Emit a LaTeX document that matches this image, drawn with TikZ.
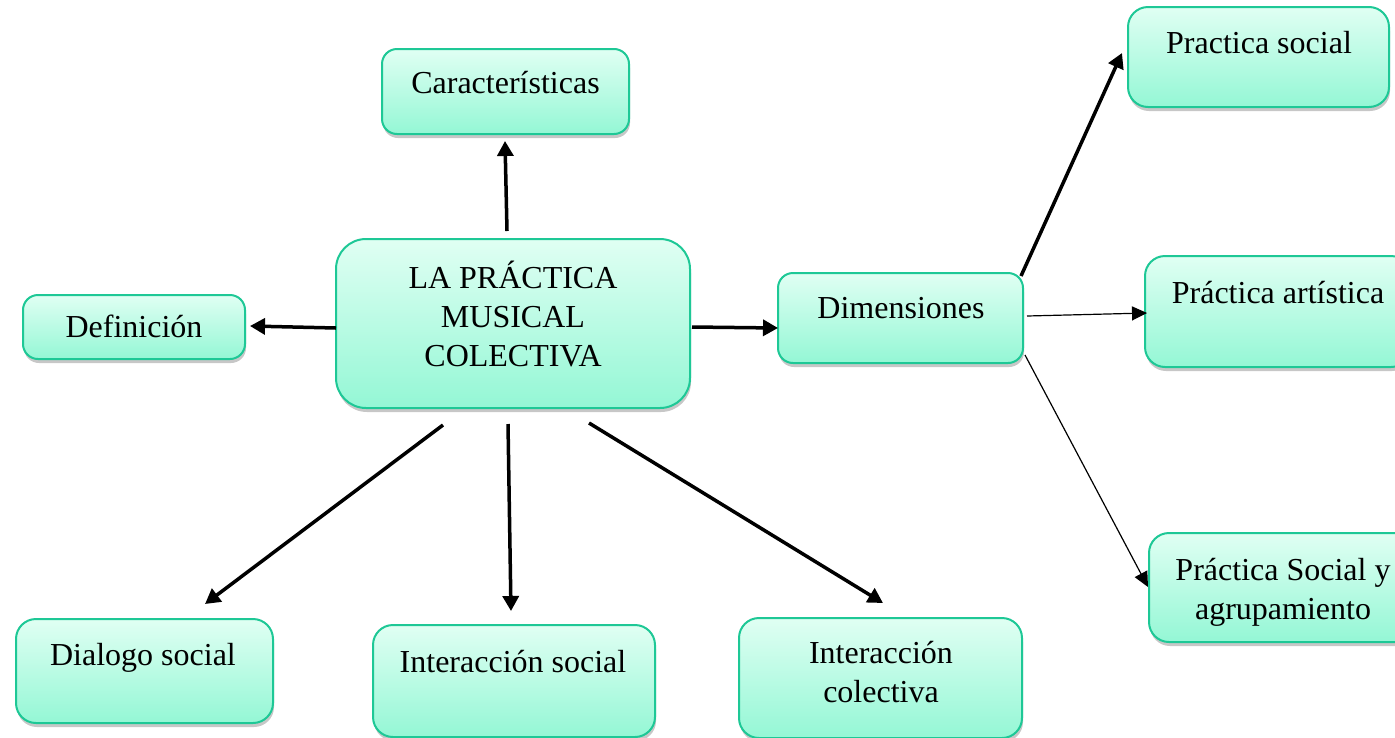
\documentclass[tikz,border=0pt]{standalone}
\usepackage{fontspec}
\setmainfont{Liberation Serif}
\usetikzlibrary{arrows.meta,shadows}
\definecolor{boxtop}{HTML}{E0FFF3}
\definecolor{boxbot}{HTML}{94F7D5}
\definecolor{boxline}{HTML}{1EC896}
\tikzset{
  mbox/.style={draw=boxline, line width=2pt, rounded corners=15pt,
    top color=boxtop, bottom color=boxbot, inner sep=0pt,
    drop shadow={shadow xshift=1pt, shadow yshift=-4pt, fill=black, opacity=0.22}},
  mtext/.style={align=center, inner sep=0pt, font=\fontsize{32}{39}\selectfont},
  thickarrow/.style={line width=3.5pt, -{Triangle[length=15pt,width=16pt]}},
  thinarrow/.style={line width=1.2pt, -{Triangle[length=15pt,width=14pt]}}
}
\begin{document}
\begin{tikzpicture}[x=1pt,y=-1pt]
\useasboundingbox (0,0) rectangle (1395,737);
% boxes
\node[mbox, minimum width=247pt, minimum height=85pt] (car) at (505.5,91.5) {};
\node[mbox, rounded corners=30pt, minimum width=354pt, minimum height=169pt] (cen) at (513,323.5) {};
\node[mbox, minimum width=222pt, minimum height=64pt] (def) at (134,327) {};
\node[mbox, minimum width=245pt, minimum height=90pt] (dim) at (900.5,318) {};
\node[mbox, rounded corners=20pt, minimum width=261pt, minimum height=100pt] (ps) at (1258.5,57) {};
\node[mbox, rounded corners=20pt, minimum width=266pt, minimum height=111pt] (pa) at (1278,311.5) {};
\node[mbox, rounded corners=20pt, minimum width=268pt, minimum height=109pt] (psa) at (1283,587.5) {};
\node[mbox, rounded corners=20pt, minimum width=257pt, minimum height=104pt] (dia) at (144.5,671) {};
\node[mbox, rounded corners=20pt, minimum width=282pt, minimum height=112pt] (is) at (514,681) {};
\node[mbox, rounded corners=20pt, minimum width=283pt, minimum height=120pt] (ic) at (880.5,678) {};
% texts
\node[mtext] (carT) at (505.5,85.7) {\strut Características};
\node[mtext] (cenT) at (513,319.2) {\strut LA PRÁCTICA\\\strut MUSICAL\\\strut COLECTIVA};
\node[mtext] (defT) at (134,329.2) {\strut Definición};
\node[mtext] (dimT) at (901,310.2) {\strut Dimensiones};
\node[mtext] (psT) at (1259,45.2) {\strut Practica social};
\node[mtext] (paT) at (1278,295.2) {\strut Práctica artística};
\node[mtext] (psaT) at (1283,591.7) {\strut Práctica Social y\\\strut agrupamiento};
\node[mtext] (diaT) at (143,657.2) {\strut Dialogo social};
\node[mtext] (isT) at (513,664.2) {\strut Interacción social};
\node[mtext] (icT) at (881,674.7) {\strut Interacción\\\strut colectiva};
% connector end points
\coordinate (cenN) at (507,231);   \coordinate (carS) at (505,141);
\coordinate (cenW) at (336,328);   \coordinate (defE) at (250,326);
\coordinate (cenE) at (692,327);   \coordinate (dimW) at (778,328);
\coordinate (cenSW) at (443,425);  \coordinate (diaN) at (205,604);
\coordinate (cenS) at (508,424);   \coordinate (isN) at (511,611);
\coordinate (cenSE) at (589,423);  \coordinate (icN) at (883,603);
\coordinate (dimNE) at (1021,276); \coordinate (psW) at (1122,53);
\coordinate (dimE) at (1027,316);  \coordinate (paW) at (1147,313);
\coordinate (dimSE) at (1025,355); \coordinate (psaW) at (1148,587);
% connectors
\draw[thickarrow] (cenN) -- (carS);
\draw[thickarrow] (cenW) -- (defE);
\draw[thickarrow] (cenE) -- (dimW);
\draw[thickarrow] (cenSW) -- (diaN);
\draw[thickarrow] (cenS) -- (isN);
\draw[thickarrow] (cenSE) -- (icN);
\draw[thickarrow] (dimNE) -- (psW);
\draw[thinarrow] (dimE) -- (paW);
\draw[thinarrow] (dimSE) -- (psaW);
\end{tikzpicture}
\end{document}
